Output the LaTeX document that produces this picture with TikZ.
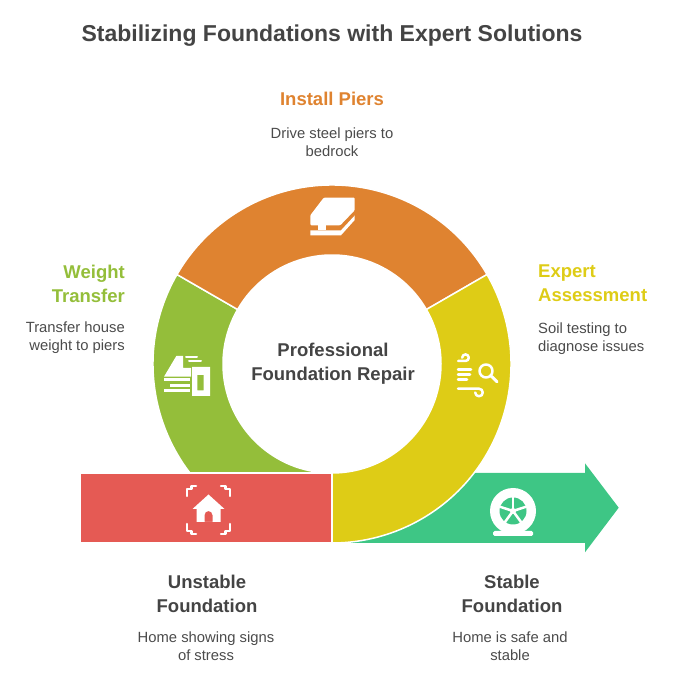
\documentclass[tikz,border=0pt]{standalone}
\usepackage{fontspec}
\setmainfont{Liberation Sans}
\usetikzlibrary{calc}
\definecolor{pierorange}{RGB}{223,131,48}
\definecolor{weightgreen}{RGB}{148,190,58}
\definecolor{assessyellow}{RGB}{222,204,22}
\definecolor{unstablered}{RGB}{229,90,84}
\definecolor{stablegreen}{RGB}{62,198,133}
\definecolor{titlegray}{RGB}{68,68,68}
\definecolor{notegray}{RGB}{75,75,75}
\tikzset{
x=1pt, y=1pt, % one unit is one pixel of the picture
every node/.style={inner sep=0pt}, % text sits right on its anchor
ringseg/.style={draw=white, line width=1.5pt}, % white seam round every coloured piece
heading/.style={font=\bfseries\fontsize{18.5}{24}\selectfont, align=center}, % bold step names
note/.style={font=\fontsize{14.8}{17.5}\selectfont, text=notegray, align=center}, % small grey texts
glyphline/.style={draw=white, line width=2.5pt, line cap=round, line join=round}, % strokes of the white icons
}
\begin{document}
\begin{tikzpicture}
\useasboundingbox (0,0) rectangle (674,675);
\coordinate (hub) at (332,311);

\filldraw[ringseg, fill=weightgreen] ($(hub)+(150:179)$) arc[start angle=150, end angle=270, radius=179]
  -- ($(hub)+(270:109)$) arc[start angle=270, end angle=150, radius=109] -- cycle;
\filldraw[ringseg, fill=pierorange] ($(hub)+(30:179)$) arc[start angle=30, end angle=150, radius=179]
  -- ($(hub)+(150:109)$) arc[start angle=150, end angle=30, radius=109] -- cycle;
\fill[stablegreen] (332,202) -- (585,202) -- (585,211.7) -- (618.7,167.3) -- (585,122.7) -- (585,132) -- (332,132) -- cycle;
\filldraw[ringseg, fill=assessyellow] ($(hub)+(30:179)$) arc[start angle=30, end angle=-90, radius=179]
  -- ($(hub)+(-90:109)$) arc[start angle=-90, end angle=30, radius=109] -- cycle;
\filldraw[ringseg, fill=unstablered] (80,132) rectangle (331.5,202);

\node[font=\bfseries\fontsize{23}{28}\selectfont, text=titlegray, anchor=north] (title) at (332,650.5) {Stabilizing Foundations with Expert Solutions};

\node[heading, text=pierorange, anchor=north] (piers) at (332,583) {Install Piers};
\node[note, anchor=north] (piersnote) at (332,547) {Drive steel piers to\\bedrock};

\node[heading, text=weightgreen, anchor=north east, align=right] (weight) at (125,410) {Weight\\Transfer};
\node[note, anchor=north east, align=right] (weightnote) at (125,353) {Transfer house\\weight to piers};

\node[heading, text=assessyellow, anchor=north west, align=left] (assess) at (538,410) {Expert\\Assessment};
\node[note, anchor=north west, align=left] (assessnote) at (538,352) {Soil testing to\\diagnose issues};

\node[heading, text=titlegray, anchor=north] (repair) at (333,332) {Professional\\Foundation Repair};

\node[heading, text=titlegray, anchor=north] (unstable) at (207,100) {Unstable\\Foundation};
\node[note, anchor=north] (unstablenote) at (206,43) {Home showing signs\\of stress};

\node[heading, text=titlegray, anchor=north] (stable) at (512,100) {Stable\\Foundation};
\node[note, anchor=north] (stablenote) at (510,43) {Home is safe and\\stable};

\begin{scope}[shift={(332,458)}, yscale=-1]
  \fill[white, rounded corners=1pt] (-21.7,-1.7) -- (-8.3,-19.3) -- (22.7,-19.3) -- (22.7,-6.7) -- (8.3,8.3) -- (-21.7,8.3) -- cycle;
  \fill[white] (-14,8) rectangle (-6,13.3);
  \fill[white] (-21.7,13.3) -- (9,13.3) -- (22.7,-1.5) -- (22.7,3) -- (9,18.3) -- (-21.7,18.3) -- cycle;
\end{scope}

\begin{scope}[shift={(188,299)}, yscale=-1]
  \fill[white] (-24,0.7) -- (-11.7,-20) -- (-5,-20) -- (-5,-8) -- (3,-8) -- (3,0.7) -- cycle;
  \draw[glyphline, line width=2pt] (-2,-19) -- (9,-19);
  \draw[glyphline, line width=2pt] (1,-14.5) -- (13,-14.5);
  \fill[white] (-24,2.5) rectangle (2,5.3);
  \fill[white] (-18.3,8) rectangle (2,10.8);
  \fill[white] (-24,13.5) rectangle (2,16.3);
  \fill[white, even odd rule] (4,-9) rectangle (22,20) (9.3,-1) rectangle (15.5,14.5);
\end{scope}

\begin{scope}[shift={(476,299)}, yscale=-1]
  \draw[glyphline] (-18,-15) -- (-10.5,-15) arc[start angle=90, end angle=-180, radius=3.3];
  \draw[glyphline] (-18,-6.5) -- (-5,-6.5);
  \draw[glyphline] (-18,-1.5) -- (-6,-1.5);
  \draw[glyphline] (-18,3.5) -- (-9,3.5);
  \draw[glyphline] (-18,12.7) -- (3,12.7) arc[start angle=-90, end angle=180, radius=3.8];
  \draw[glyphline] (10,-5) circle[radius=6.5];
  \draw[glyphline, line width=3pt] (14.8,-0.3) -- (21,5.8);
\end{scope}

\begin{scope}[shift={(208.5,165)}, yscale=-1]
  \fill[white, even odd rule] (-16,-1) -- (0,-15.5) -- (16,-1) -- (12,-1) -- (12,12) -- (-12,12) -- (-12,-1) -- cycle
    (-4,12) -- (-4,5) arc[start angle=180, end angle=360, radius=4] -- (4,12) -- cycle;
  \foreach \sx/\sy in {1/1,-1/1,1/-1,-1/-1}
    \draw[glyphline, xscale=\sx, yscale=\sy] (-12.5,-24) -- (-17,-24) -- (-17,-21) -- (-21.5,-21) -- (-21.5,-14);
\end{scope}

\begin{scope}[shift={(513,164)}, yscale=-1]
  \fill[white] (0,0) circle[radius=23];
  \fill[white, rounded corners=1.5pt] (-20,20) rectangle (20,25);
  \fill[stablegreen] (0,0) circle[radius=13.5];
  \foreach \a in {-90,-18,54,126,198}
    \draw[draw=white, line width=2.5pt] (0,0) -- (\a:14);
  \fill[white] (0,0) circle[radius=3];
\end{scope}
\end{tikzpicture}
\end{document}
